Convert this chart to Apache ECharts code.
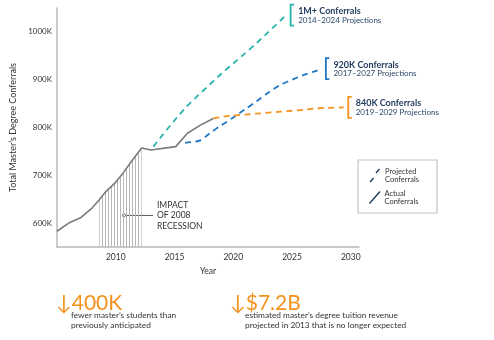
<!DOCTYPE html>
<html><head><meta charset="utf-8">
<script src="https://cdn.jsdelivr.net/npm/echarts@6/dist/echarts.min.js"></script>
<style>html,body{margin:0;padding:0;background:#fff}#c{width:494px;height:340px}</style>
</head><body><div id="c"></div>
<script>
// ---- data ----
const actualYears = [2005, 2006, 2007, 2008, 2008.6, 2009.2, 2009.9, 2010.6, 2011.3, 2012.2, 2013, 2015.1, 2016.1, 2017.2, 2018.3];
const actualValues = [583, 600, 611, 632, 649, 667, 683, 704, 728, 757, 753, 760, 788, 805, 819];
const proj2014Years = [2013.2, 2014, 2015, 2016, 2017, 2018, 2019, 2020, 2021, 2022, 2023, 2024.5];
const proj2014Values = [760, 785, 815, 843, 867, 890, 913, 934, 955, 977, 1000, 1035];
const proj2017Years = [2015.9, 2017.2, 2018, 2019, 2020, 2021, 2022, 2023, 2024, 2025, 2026, 2027, 2027.5];
const proj2017Values = [768, 773, 788, 805, 821, 838, 855, 873, 889, 900, 910, 918, 923];
const proj2019Years = [2018.3, 2019, 2020, 2021, 2022, 2023, 2024, 2025, 2026, 2027, 2028, 2029.4];
const proj2019Values = [819, 822, 825, 827, 829, 831, 833, 835, 837, 840, 841, 842];
const xTickYears = [2010, 2015, 2020, 2025, 2030];
const yTickValues = [600, 700, 800, 900, 1000];
const projLabels = [
  {title: '1M+ Conferrals', sub: '2014\u20132024 Projections'},
  {title: '920K Conferrals', sub: '2017\u20132027 Projections'},
  {title: '840K Conferrals', sub: '2019\u20132029 Projections'}
];
const recessionStart = 4, recessionEnd = 10; // slice of actual points shaded

const FONT = 'Lato';
const TEAL = '#2ab3aa', BLUE = '#1f77c4', ORANGE = '#f5921e', GRAY = '#7a7a7a', NAVY = '#1e3a5c';

function pairs(xs, ys){ return xs.map((x,i)=>[x, ys[i]]); }

// hatch pattern
const pc = document.createElement('canvas');
pc.width = 3; pc.height = 4;
const pctx = pc.getContext('2d');
pctx.fillStyle = '#b5b5b5';
pctx.fillRect(0,0,1,4);

const chart = echarts.init(document.getElementById('c'), null, {renderer:'canvas'});
const dashed = (color)=>({color, width:1.8, type:[6,4.5]});
chart.setOption({
  animation:false,
  textStyle:{fontFamily:FONT},
  grid:{left:57, right:135, top:8, bottom:93},
  xAxis:{type:'value', min:2005, max:2030.7,
    name:'Year', nameLocation:'middle', nameGap:20,
    nameTextStyle:{fontFamily:FONT, fontSize:8.5, color:'#333'},
    axisLine:{lineStyle:{color:'#b8b8b8', width:1.5}},
    axisTick:{show:false}, splitLine:{show:false},
    axisLabel:{customValues:xTickYears, formatter:v=>String(v), fontFamily:FONT, fontSize:8.5, color:'#333', margin:6}},
  yAxis:{type:'value', min:550, max:1050,
    name:'Total Master\u2019s Degree Conferrals', nameLocation:'middle', nameGap:33,
    nameTextStyle:{fontFamily:FONT, fontSize:9, color:'#333'},
    axisLine:{show:true, lineStyle:{color:'#b8b8b8', width:1.5}},
    axisTick:{show:false}, splitLine:{show:false},
    axisLabel:{customValues:yTickValues, formatter:v=>v+'K', fontFamily:FONT, fontSize:8, color:'#333', margin:5}},
  series:[
    {type:'line', data:pairs(actualYears, actualValues).slice(recessionStart, recessionEnd),
      symbol:'none', lineStyle:{width:0}, areaStyle:{color:{image:pc, repeat:'repeat'}, opacity:1, origin:'start'}, z:1},
    {type:'line', data:pairs(actualYears, actualValues), symbol:'none', lineStyle:{color:GRAY, width:1.6}, z:3},
    {type:'line', data:pairs(proj2014Years, proj2014Values), symbol:'none', smooth:0.2, lineStyle:dashed(TEAL), z:2},
    {type:'line', data:pairs(proj2017Years, proj2017Values), symbol:'none', smooth:0.3, lineStyle:dashed(BLUE), z:2},
    {type:'line', data:pairs(proj2019Years, proj2019Values), symbol:'none', smooth:0.2, lineStyle:dashed(ORANGE), z:2}
  ]
});

const graphics = [];
const ends = [
  [proj2014Years, proj2014Values, TEAL],
  [proj2017Years, proj2017Values, BLUE],
  [proj2019Years, proj2019Values, ORANGE]
];
ends.forEach((e,i)=>{
  const n = e[0].length-1;
  const p = chart.convertToPixel({gridIndex:0}, [e[0][n], e[1][n]]);
  const bx = p[0]+4.5, cy = p[1];
  graphics.push({type:'polyline', shape:{points:[[bx+3.5,cy-10.5],[bx,cy-10.5],[bx,cy+10.5],[bx+3.5,cy+10.5]]}, style:{stroke:e[2], lineWidth:1.8, fill:null}});
  graphics.push({type:'text', x:bx+7.5, y:cy-4, style:{text:projLabels[i].title, font:'bold 9px '+FONT, fill:NAVY, verticalAlign:'middle'}});
  graphics.push({type:'text', x:bx+7.5, y:cy+5, style:{text:projLabels[i].sub, font:'8px '+FONT, fill:'#2c4868', verticalAlign:'middle'}});
});

// recession annotation
const ann = chart.convertToPixel({gridIndex:0}, [2010.7, 616]);
graphics.push({type:'line', shape:{x1:ann[0], y1:ann[1], x2:ann[0]+29, y2:ann[1]}, style:{stroke:'#555', lineWidth:1}});
graphics.push({type:'circle', shape:{cx:ann[0], cy:ann[1], r:1.6}, style:{fill:'#fff', stroke:'#555', lineWidth:0.8}});
graphics.push({type:'text', x:ann[0]+33, y:ann[1], style:{text:'IMPACT\nOF 2008\nRECESSION', font:'8.5px '+FONT, fill:'#333', verticalAlign:'middle', lineHeight:10.5}});

// legend box
graphics.push({type:'rect', shape:{x:358, y:160, width:79, height:53}, style:{fill:'#fff', stroke:'#c4c4c4', lineWidth:1.2}});
graphics.push({type:'line', shape:{x1:370, y1:182, x2:373.5, y2:178}, style:{stroke:NAVY, lineWidth:1.3}});
graphics.push({type:'line', shape:{x1:376, y1:173, x2:379.5, y2:169}, style:{stroke:NAVY, lineWidth:1.3}});
graphics.push({type:'line', shape:{x1:369.5, y1:203.5, x2:380, y2:191.5}, style:{stroke:NAVY, lineWidth:1.3}});
graphics.push({type:'text', x:385, y:175.5, style:{text:'Projected\nConferrals', font:'7.5px '+FONT, fill:'#333', verticalAlign:'middle', lineHeight:8.5}});
graphics.push({type:'text', x:384.5, y:197.5, style:{text:'Actual\nConferrals', font:'7.5px '+FONT, fill:'#333', verticalAlign:'middle', lineHeight:8.5}});

// bottom stats
graphics.push({type:'text', x:56, y:303, style:{text:'\u2193400K', font:'21px '+FONT, fill:ORANGE, verticalAlign:'middle'}});
graphics.push({type:'text', x:71, y:320, style:{text:'fewer master\u2019s students than\npreviously anticipated', font:'8.3px '+FONT, fill:'#333', verticalAlign:'middle', lineHeight:10}});
graphics.push({type:'text', x:230, y:303, style:{text:'\u2193$7.2B', font:'21px '+FONT, fill:ORANGE, verticalAlign:'middle'}});
graphics.push({type:'text', x:245, y:320, style:{text:'estimated master\u2019s degree tuition revenue\nprojected in 2013 that is no longer expected', font:'8.3px '+FONT, fill:'#333', verticalAlign:'middle', lineHeight:10}});

chart.setOption({graphic:graphics});
</script></body></html>
